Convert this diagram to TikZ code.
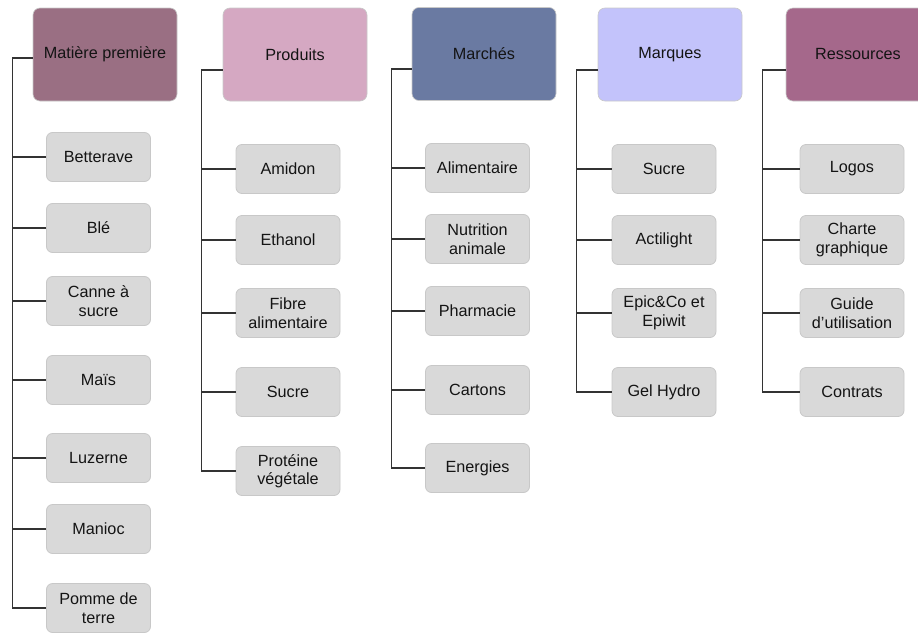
\documentclass[tikz,border=0pt]{standalone}
\usepackage{fontspec}
\setmainfont{Liberation Sans}
\definecolor{hA}{HTML}{9A6F83}
\definecolor{hB}{HTML}{D5A8C2}
\definecolor{hC}{HTML}{6A7AA2}
\definecolor{hD}{HTML}{C3C3FB}
\definecolor{hE}{HTML}{A5688B}
\definecolor{leaf}{HTML}{D9D9D9}
\definecolor{leafborder}{HTML}{C8C8C8}
\definecolor{txt}{HTML}{141414}
\tikzset{
  base/.style={rectangle, align=center, inner sep=0pt, text=txt,
    font=\fontsize{16.2}{18.5}\selectfont},
  head/.style={base, minimum width=144pt, minimum height=93pt,
    rounded corners=7pt, draw=leafborder, line width=0.6pt},
  leafbox/.style={base, minimum width=104pt, minimum height=49pt,
    rounded corners=6pt, fill=leaf, draw=leafborder, line width=0.8pt},
  conn/.style={draw=black!80, line width=1.2pt}
}
\begin{document}
\begin{tikzpicture}[x=1pt,y=-1pt]
\useasboundingbox (0,0) rectangle (918,632);
\clip (0,0) rectangle (918,632);
% headers
\node[head, fill=hA] (h1) at (105,54.5) {Matière première};
\node[head, fill=hB] (h2) at (295,54.5) {Produits};
\node[head, fill=hC] (h3) at (484,54) {Marchés};
\node[head, fill=hD] (h4) at (670,54.5) {Marques};
\node[head, fill=hE] (h5) at (858,54.5) {Ressources};
% column 1
\node[leafbox] (a1) at (98.5,157) {Betterave};
\node[leafbox] (a2) at (98.5,228) {Blé};
\node[leafbox] (a3) at (98.5,301) {Canne à\\sucre};
\node[leafbox] (a4) at (98.5,380) {Maïs};
\node[leafbox] (a5) at (98.5,458) {Luzerne};
\node[leafbox] (a6) at (98.5,529) {Manioc};
\node[leafbox] (a7) at (98.5,608) {Pomme de\\terre};
% column 2
\node[leafbox] (b1) at (288,169) {Amidon};
\node[leafbox] (b2) at (288,240) {Ethanol};
\node[leafbox] (b3) at (288,313) {Fibre\\alimentaire};
\node[leafbox] (b4) at (288,392) {Sucre};
\node[leafbox] (b5) at (288,471) {Protéine\\végétale};
% column 3
\node[leafbox] (c1) at (477.5,168) {Alimentaire};
\node[leafbox] (c2) at (477.5,239) {Nutrition\\animale};
\node[leafbox] (c3) at (477.5,311) {Pharmacie};
\node[leafbox] (c4) at (477.5,390) {Cartons};
\node[leafbox] (c5) at (477.5,468) {Energies};
% column 4
\node[leafbox] (d1) at (664,169) {Sucre};
\node[leafbox] (d2) at (664,240) {Actilight};
\node[leafbox] (d3) at (664,313) {Epic\&Co et\\Epiwit};
\node[leafbox] (d4) at (664,392) {Gel Hydro};
% column 5
\node[leafbox] (e1) at (852,169) {Logos};
\node[leafbox] (e2) at (852,240) {Charte\\graphique};
\node[leafbox] (e3) at (852,313) {Guide\\d’utilisation};
\node[leafbox] (e4) at (852,392) {Contrats};
% connectors column 1
\draw[conn] ([yshift=-3.5pt]h1.west) -| ([xshift=-34pt]a7.west) -- (a7.west);
\foreach \n in {a1,a2,a3,a4,a5,a6} \draw[conn] (\n.west) -- ++(-34,0);
% column 2
\draw[conn] ([yshift=-15.5pt]h2.west) -| ([xshift=-34pt]b5.west) -- (b5.west);
\foreach \n in {b1,b2,b3,b4} \draw[conn] (\n.west) -- ++(-34,0);
% column 3
\draw[conn] ([yshift=-15pt]h3.west) -| ([xshift=-34pt]c5.west) -- (c5.west);
\foreach \n in {c1,c2,c3,c4} \draw[conn] (\n.west) -- ++(-34,0);
% column 4
\draw[conn] ([yshift=-15.5pt]h4.west) -| ([xshift=-35pt]d4.west) -- (d4.west);
\foreach \n in {d1,d2,d3} \draw[conn] (\n.west) -- ++(-35,0);
% column 5
\draw[conn] ([yshift=-15.5pt]h5.west) -| ([xshift=-37pt]e4.west) -- (e4.west);
\foreach \n in {e1,e2,e3} \draw[conn] (\n.west) -- ++(-37,0);
\end{tikzpicture}
\end{document}
